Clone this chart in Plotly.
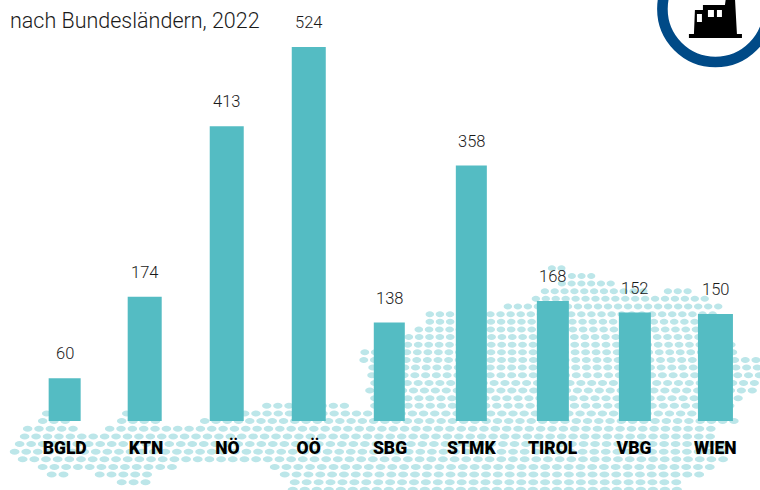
import plotly.graph_objects as go

# Chart data
categories = ["BGLD", "KTN", "NÖ", "OÖ", "SBG", "STMK", "TIROL", "VBG", "WIEN"]
values = [60, 174, 413, 524, 138, 358, 168, 152, 150]
title_text = "nach Bundesländern, 2022"

# Decorative dot map: per row, the horizontal spans (page pixels) that hold dots
map_rows = [
    [(552, 561)], [(572, 598)], [(562, 618)], [(545, 650), (668, 687)],
    [(536, 712)], [(508, 722)], [(430, 715)], [(430, 710)], [(419, 708)],
    [(409, 700)], [(408, 737)], [(365, 740)], [(364, 760)], [(373, 757)],
    [(372, 760)], [(375, 760)], [(370, 755)], [(375, 745)],
    [(267, 346), (375, 733)], [(47, 55), (127, 157), (245, 733)],
    [(43, 67), (122, 157), (205, 736)], [(28, 75), (110, 713)], [(25, 717)],
    [(20, 725)], [(15, 725)], [(23, 723)], [(43, 177), (275, 714)],
    [(52, 63), (100, 150), (285, 704)], [(122, 147), (295, 687)], [(293, 687)],
]

W, H = 760, 490
SLOT = 81.3
ML, MR = 24.35, W - 24.35 - 9 * SLOT
BASE = 421
PX_PER_UNIT = 0.7137
MB = H - BASE
PW, PH = W - ML - MR, H - MB
BAR_LEFT = [49, 128, 210, 292, 374, 456, 537, 619, 698]
BAR_PX = [32, 34, 34, 34, 31, 31, 32, 32, 35]
SLOT_CENTER = [ML + SLOT * (i + 0.5) for i in range(9)]


def px(x):
    return (x - ML) / PW


def py(y):
    return (BASE - y) / PH


def ellipse(cx, cy, rx, ry):
    k = 0.5523
    a, b = rx * k, ry * k
    return (
        f"M{px(cx-rx):.5f},{py(cy):.5f}"
        f"C{px(cx-rx):.5f},{py(cy-b):.5f} {px(cx-a):.5f},{py(cy-ry):.5f} {px(cx):.5f},{py(cy-ry):.5f}"
        f"C{px(cx+a):.5f},{py(cy-ry):.5f} {px(cx+rx):.5f},{py(cy-b):.5f} {px(cx+rx):.5f},{py(cy):.5f}"
        f"C{px(cx+rx):.5f},{py(cy+b):.5f} {px(cx+a):.5f},{py(cy+ry):.5f} {px(cx):.5f},{py(cy+ry):.5f}"
        f"C{px(cx-a):.5f},{py(cy+ry):.5f} {px(cx-rx):.5f},{py(cy+b):.5f} {px(cx-rx):.5f},{py(cy):.5f}Z"
    )


def poly(points):
    return "M" + "L".join(f"{px(x):.5f},{py(y):.5f}" for x, y in points) + "Z"


parts = []
for k, spans in enumerate(map_rows):
    cy = 268.3 + 7.64 * k
    step = 9.6 + 2.4 * k / 29
    for a, b in spans:
        x = float(a)
        while x <= b + 1:
            parts.append(ellipse(x, cy, step * 0.42, 3.0))
            x += step

shapes = [
    dict(type="path", xref="paper", yref="paper", path="".join(parts),
         fillcolor="#bce6e9", line=dict(width=0), layer="below"),
    dict(type="circle", xref="paper", yref="paper",
         x0=px(715.5 - 53), x1=px(715.5 + 53), y0=py(9 + 53), y1=py(9 - 53),
         line=dict(color="#004a87", width=10.6), fillcolor="rgba(0,0,0,0)"),
    dict(type="path", xref="paper", yref="paper", fillcolor="#000000", line=dict(width=0),
         path=poly([(689, 34), (694, 34), (695, 10), (703, 10), (703, 5), (725, 5), (726, -2),
                    (735, -2), (737, 34), (742, 34), (742, 38), (689, 38)])),
]
for x0, x1, y0, y1 in [(697, 702, 14, 22), (708, 714, 10, 17), (717, 722, 10, 17)]:
    shapes.append(dict(type="rect", xref="paper", yref="paper", x0=px(x0), x1=px(x1),
                       y0=py(y1), y1=py(y0), fillcolor="#ffffff", line=dict(width=0)))

fig = go.Figure(go.Bar(
    x=categories, y=values,
    width=[b / SLOT for b in BAR_PX],
    offset=[(l - c) / SLOT for l, c in zip(BAR_LEFT, SLOT_CENTER)],
    marker=dict(color="#54bcc3", line=dict(width=0)),
    hoverinfo="skip",
))

annotations = [
    dict(x=c, y=v, xref="x", yref="y", text=str(v), showarrow=False, yshift=24.5,
         xshift=l + b / 2 - sc,
         font=dict(family="Roboto", size=16.5, color="#1a1a1a", weight=300))
    for c, v, l, b, sc in zip(categories, values, BAR_LEFT, BAR_PX, SLOT_CENTER)
]
annotations.append(dict(
    x=px(8.5), y=py(20), xref="paper", yref="paper", xanchor="left", yanchor="middle",
    text=title_text, showarrow=False,
    font=dict(family="Roboto", size=21.5, color="#1a1a1a", weight=300),
))

fig.update_layout(
    width=W, height=H, autosize=False,
    margin=dict(l=ML, r=MR, t=0, b=MB, pad=0),
    paper_bgcolor="#ffffff", plot_bgcolor="rgba(0,0,0,0)",
    showlegend=False, shapes=shapes, annotations=annotations,
    xaxis=dict(type="category", range=[-0.5, 8.5], showgrid=False, zeroline=False,
               showline=False, ticks="outside", ticklen=11, tickcolor="rgba(0,0,0,0)",
               tickfont=dict(family="Roboto", size=17.5, color="#000000", weight=900),
               automargin=False),
    yaxis=dict(range=[0, BASE / PX_PER_UNIT], visible=False, automargin=False),
)

fig.write_html("out.html", config={"displayModeBar": False},
               post_script="document.body.style.margin='0';document.body.style.overflow='hidden';")
